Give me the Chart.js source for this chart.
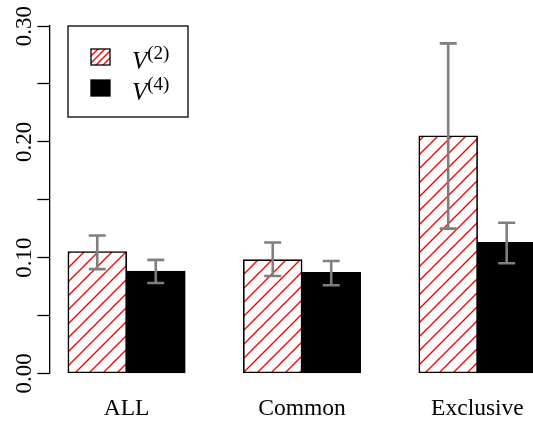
<!DOCTYPE html>
<html lang="en">
<head>
  <meta charset="UTF-8">
  <meta name="viewport" content="width=device-width, initial-scale=1.0">
  <title>V2 vs V4</title>
  <script src="https://cdn.jsdelivr.net/npm/chart.js"></script>
</head>
<style>
  html, body { margin: 0; padding: 0; background: #fff; overflow: hidden; }
  .chart-container {
    width: 533px;
    height: 423px;
    position: relative;
  }
</style>
<body>
  <div class="chart-container">
    <canvas id="chartCanvas"></canvas>
  </div>

  <script>
    // data
    const groups = ['ALL', 'Common', 'Exclusive'];
    const groupPos = [2, 5, 8]; // centre of each bar pair on the x axis
    const v2Mean = [0.105, 0.098, 0.205];
    const v2Low = [0.090, 0.084, 0.125];
    const v2High = [0.119, 0.113, 0.285];
    const v4Mean = [0.088, 0.087, 0.113];
    const v4Low = [0.078, 0.076, 0.095];
    const v4High = [0.098, 0.097, 0.130];
    const yTicks = [0, 0.05, 0.10, 0.15, 0.20, 0.25, 0.30];
    const yLabelled = [0, 0.10, 0.20, 0.30];
    const legendNames = [['V', '(2)'], ['V', '(4)']];

    const serif = "'Liberation Serif', 'Times New Roman', serif";
    const canvas = document.getElementById('chartCanvas');
    const ctx = canvas.getContext('2d');

    // red diagonal hatching
    function hatch(step) {
      const c = document.createElement('canvas');
      c.width = step; c.height = step;
      const g = c.getContext('2d');
      g.fillStyle = '#ffffff';
      g.fillRect(0, 0, step, step);
      g.strokeStyle = '#ff0000';
      g.lineWidth = 1.4;
      g.beginPath();
      g.moveTo(-1, step + 1); g.lineTo(step + 1, -1);
      g.moveTo(-1, 1); g.lineTo(1, -1);
      g.moveTo(step - 1, step + 1); g.lineTo(step + 1, step - 1);
      g.stroke();
      return ctx.createPattern(c, 'repeat');
    }
    const barHatch = hatch(14);
    const keyHatch = hatch(7);

    const toPoints = (vals) => vals.map((v, i) => ({ x: groupPos[i], y: v }));

    // grey error bars
    const errorBars = {
      id: 'errorBars',
      afterDatasetsDraw(chart) {
        const y = chart.scales.y;
        const ranges = [[v2Low, v2High], [v4Low, v4High]];
        const c = chart.ctx;
        c.save();
        c.strokeStyle = '#7f7f7f';
        c.lineWidth = 2.6;
        ranges.forEach((r, d) => {
          chart.getDatasetMeta(d).data.forEach((bar, i) => {
            const lo = y.getPixelForValue(r[0][i]);
            const hi = y.getPixelForValue(r[1][i]);
            c.beginPath();
            c.moveTo(bar.x, lo); c.lineTo(bar.x, hi);
            c.moveTo(bar.x - 8.5, lo); c.lineTo(bar.x + 8.5, lo);
            c.moveTo(bar.x - 8.5, hi); c.lineTo(bar.x + 8.5, hi);
            c.stroke();
          });
        });
        c.restore();
      }
    };

    // boxed legend like R's legend()
    const boxLegend = {
      id: 'boxLegend',
      afterDraw(chart) {
        const c = chart.ctx;
        const fills = [keyHatch, '#000000'];
        c.save();
        c.lineWidth = 1.3;
        c.strokeStyle = '#000';
        c.strokeRect(68, 26, 120, 91);
        const rows = [57, 88];
        rows.forEach((cy, i) => {
          c.fillStyle = fills[i];
          c.fillRect(91, cy - 8, 19, 16);
          c.strokeRect(91, cy - 8, 19, 16);
          c.fillStyle = '#000';
          c.textBaseline = 'alphabetic';
          c.textAlign = 'left';
          c.font = 'italic 25px ' + serif;
          c.fillText(legendNames[i][0], 132, cy + 12);
          const w = c.measureText(legendNames[i][0]).width;
          c.font = '19px ' + serif;
          c.fillText(legendNames[i][1], 132 + w, cy + 2);
        });
        c.restore();
      }
    };

    const chart = new Chart(ctx, {
      type: 'bar',
      data: {
        datasets: [{
          label: 'V(2)',
          data: toPoints(v2Mean),
          backgroundColor: barHatch,
          borderColor: '#000',
          borderWidth: 1.6,
          borderSkipped: false,
          inflateAmount: 0.5
        }, {
          label: 'V(4)',
          data: toPoints(v4Mean),
          backgroundColor: '#000',
          borderColor: '#000',
          borderWidth: 1.6,
          borderSkipped: false,
          inflateAmount: 0.6
        }]
      },
      options: {
        responsive: true,
        maintainAspectRatio: false,
        animation: false,
        categoryPercentage: 2 / 3,
        barPercentage: 1,
        layout: { padding: { top: 26, left: 0, right: 0, bottom: 0 } },
        plugins: {
          legend: { display: false },
          tooltip: { enabled: false }
        },
        scales: {
          x: {
            type: 'linear',
            offset: false,
            min: 0.68,
            max: 8.95,
            grid: { display: false, drawTicks: false },
            border: { display: false },
            afterBuildTicks: (s) => { s.ticks = groupPos.map(v => ({ value: v })); },
            afterFit: (s) => { s.height = 49.7; s.paddingLeft = 0; s.paddingRight = 0; },
            ticks: {
              color: '#000',
              font: { family: serif, size: 23.5 },
              padding: 21,
              maxRotation: 0,
              autoSkip: false,
              callback: (v) => groups[groupPos.indexOf(v)]
            }
          },
          y: {
            min: 0,
            max: 0.30,
            grid: { drawOnChartArea: false, drawTicks: true, tickLength: 12, tickWidth: 1.3, tickColor: '#000' },
            border: { display: true, color: '#000', width: 1.3 },
            afterBuildTicks: (s) => { s.ticks = yTicks.map(v => ({ value: v })); },
            afterFit: (s) => { s.width = 49.3; s.paddingTop = 0; s.paddingBottom = 0; },
            ticks: {
              color: '#000',
              font: { family: serif, size: 23 },
              minRotation: 90,
              maxRotation: 90,
              padding: 12,
              labelOffset: -20,
              autoSkip: false,
              callback: (v) => yLabelled.some(t => Math.abs(t - v) < 1e-9) ? v.toFixed(2) : ''
            }
          }
        }
      },
      plugins: [errorBars, boxLegend]
    });
  </script>
</body>
</html>
